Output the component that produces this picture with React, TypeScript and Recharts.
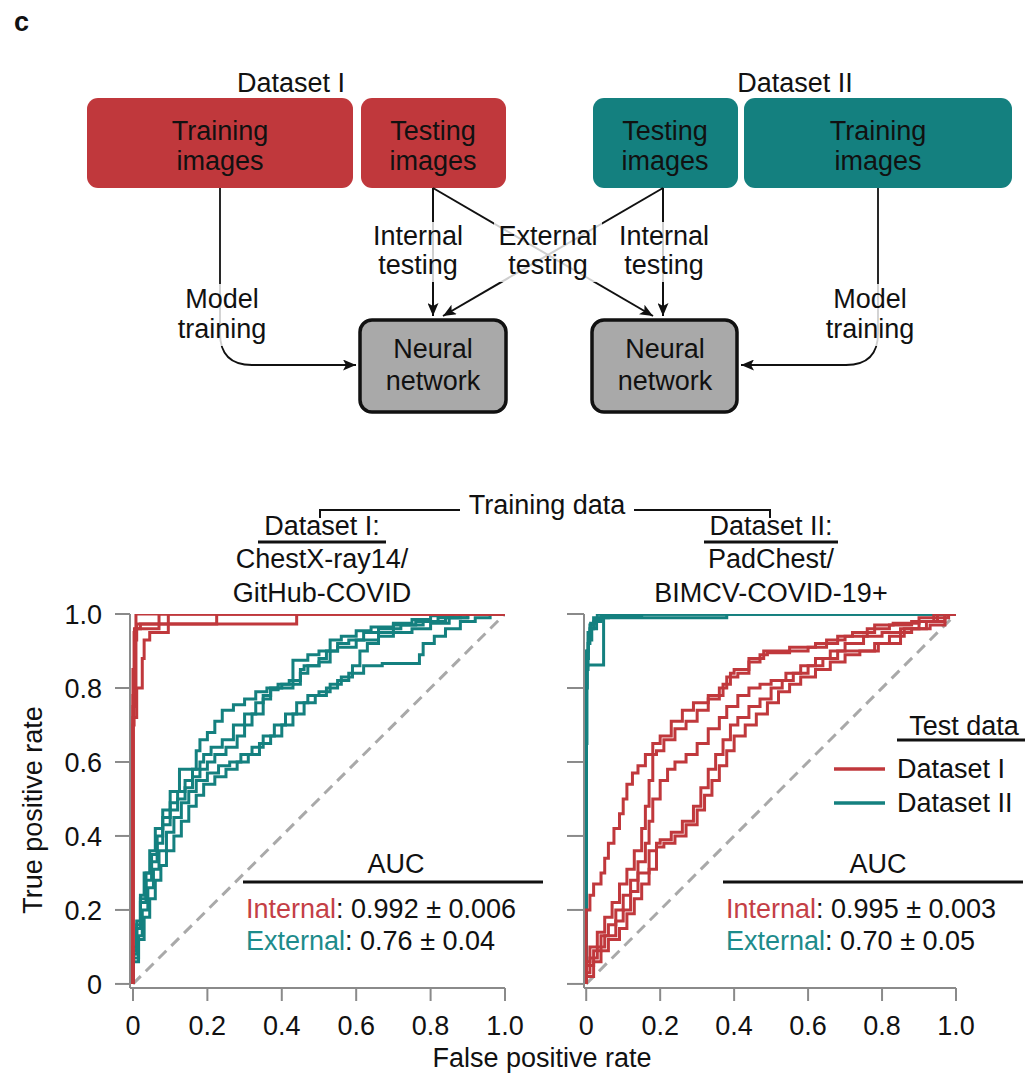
import { Legend, Line, LineChart, XAxis, YAxis } from "recharts";

const RED = "#c0383c";
const TEAL = "#14807f";
const RED_TXT = "#c43f46";
const TEAL_TXT = "#1d8b8b";
const AXIS = "#8a8a8a";
const FONT = "'Liberation Sans', Arial, Helvetica, sans-serif";
const FS = 27;

const TICKS = [0, 0.2, 0.4, 0.6, 0.8, 1];
const fmtTick = (v: number) => (v === 0 ? "0" : v.toFixed(1));
const CHANCE = [[0, 0], [1, 1]];

// Left panel: trained on Dataset I (ChestX-ray14 / GitHub-COVID)
const LEFT_INTERNAL = [
  [[0, 0], [0, 0.7], [0.003, 0.7], [0.003, 0.95], [0.008, 0.95], [0.008, 1], [1, 1]],
  [[0, 0], [0, 0.78], [0.005, 0.78], [0.005, 0.93], [0.01, 0.93], [0.01, 0.973], [0.44, 0.973], [0.44, 1], [1, 1]],
  [[0, 0], [0, 0.75], [0.008, 0.75], [0.008, 0.96], [0.02, 0.96], [0.02, 0.973], [0.225, 0.973], [0.225, 1], [1, 1]],
  [[0, 0], [0, 0.72], [0.01, 0.72], [0.01, 0.8], [0.025, 0.8], [0.025, 0.88], [0.03, 0.88], [0.03, 0.93], [0.045, 0.93], [0.045, 0.95], [0.095, 0.95], [0.095, 1], [1, 1]],
  [[0, 0], [0, 0.85], [0.004, 0.85], [0.004, 0.96], [0.07, 0.96], [0.07, 1], [1, 1]],
];
const LEFT_EXTERNAL = [
  [[0, 0], [0.01, 0.1], [0.02, 0.17], [0.03, 0.24], [0.045, 0.3], [0.06, 0.36], [0.08, 0.42], [0.1, 0.47], [0.125, 0.52], [0.13, 0.58], [0.17, 0.58], [0.18, 0.63], [0.2, 0.66], [0.22, 0.68], [0.24, 0.71], [0.27, 0.74], [0.3, 0.755], [0.33, 0.77], [0.36, 0.79], [0.4, 0.8], [0.43, 0.81], [0.43, 0.875], [0.47, 0.875], [0.5, 0.89], [0.53, 0.9], [0.56, 0.93], [0.6, 0.94], [0.64, 0.955], [0.7, 0.965], [0.75, 0.975], [0.8, 0.985], [0.86, 0.995], [0.92, 1], [1, 1]],
  [[0, 0], [0.01, 0.08], [0.02, 0.15], [0.035, 0.22], [0.05, 0.28], [0.065, 0.33], [0.08, 0.38], [0.1, 0.43], [0.12, 0.47], [0.14, 0.5], [0.16, 0.53], [0.18, 0.56], [0.2, 0.58], [0.22, 0.6], [0.25, 0.62], [0.28, 0.64], [0.3, 0.67], [0.32, 0.7], [0.35, 0.73], [0.37, 0.77], [0.39, 0.8], [0.42, 0.81], [0.45, 0.82], [0.47, 0.84], [0.5, 0.86], [0.53, 0.87], [0.55, 0.9], [0.58, 0.92], [0.62, 0.93], [0.66, 0.95], [0.72, 0.96], [0.78, 0.97], [0.84, 0.98], [0.9, 0.99], [0.95, 1], [1, 1]],
  [[0, 0], [0.015, 0.07], [0.025, 0.13], [0.04, 0.2], [0.055, 0.26], [0.07, 0.31], [0.09, 0.36], [0.11, 0.41], [0.13, 0.45], [0.15, 0.49], [0.17, 0.52], [0.2, 0.55], [0.23, 0.57], [0.26, 0.59], [0.29, 0.6], [0.32, 0.62], [0.35, 0.64], [0.38, 0.67], [0.41, 0.7], [0.44, 0.73], [0.47, 0.76], [0.5, 0.78], [0.53, 0.79], [0.56, 0.81], [0.59, 0.83], [0.61, 0.86], [0.63, 0.9], [0.66, 0.92], [0.7, 0.94], [0.75, 0.95], [0.8, 0.96], [0.85, 0.975], [0.9, 0.99], [1, 1]],
  [[0, 0], [0.015, 0.06], [0.03, 0.12], [0.045, 0.18], [0.06, 0.23], [0.075, 0.28], [0.09, 0.32], [0.11, 0.36], [0.13, 0.4], [0.15, 0.44], [0.17, 0.48], [0.19, 0.51], [0.22, 0.54], [0.25, 0.56], [0.28, 0.58], [0.31, 0.6], [0.34, 0.62], [0.37, 0.65], [0.4, 0.67], [0.43, 0.7], [0.46, 0.73], [0.49, 0.76], [0.52, 0.78], [0.55, 0.8], [0.58, 0.82], [0.62, 0.84], [0.67, 0.86], [0.77, 0.866], [0.78, 0.89], [0.81, 0.92], [0.84, 0.94], [0.88, 0.96], [0.92, 0.98], [0.96, 0.99], [1, 1]],
  [[0, 0], [0.01, 0.09], [0.02, 0.16], [0.035, 0.23], [0.05, 0.3], [0.065, 0.35], [0.08, 0.4], [0.1, 0.45], [0.12, 0.49], [0.14, 0.52], [0.16, 0.55], [0.18, 0.58], [0.19, 0.6], [0.21, 0.62], [0.24, 0.64], [0.27, 0.66], [0.3, 0.7], [0.33, 0.73], [0.35, 0.76], [0.37, 0.78], [0.39, 0.795], [0.43, 0.8], [0.45, 0.81], [0.46, 0.85], [0.5, 0.86], [0.52, 0.88], [0.55, 0.9], [0.6, 0.91], [0.66, 0.93], [0.7, 0.95], [0.76, 0.97], [0.82, 0.98], [0.88, 0.99], [0.93, 1], [1, 1]],
];

// Right panel: trained on Dataset II (PadChest / BIMCV-COVID-19+)
const RIGHT_INTERNAL = [
  [[0, 0], [0, 0.6], [0.003, 0.8], [0.006, 0.9], [0.01, 0.95], [0.02, 0.97], [0.03, 0.99], [0.045, 1], [1, 1]],
  [[0, 0], [0, 0.7], [0.005, 0.85], [0.01, 0.92], [0.02, 0.96], [0.035, 0.98], [0.05, 0.99], [0.38, 0.99], [0.38, 1], [1, 1]],
  [[0, 0], [0, 0.75], [0.004, 0.86], [0.047, 0.862], [0.047, 0.98], [0.06, 0.99], [0.1, 1], [1, 1]],
  [[0, 0], [0, 0.8], [0.005, 0.9], [0.012, 0.95], [0.025, 0.975], [0.04, 0.985], [0.15, 0.993], [0.2, 1], [1, 1]],
  [[0, 0], [0.002, 0.65], [0.006, 0.88], [0.015, 0.93], [0.028, 0.96], [0.04, 0.98], [0.05, 1], [1, 1]],
];
const RIGHT_EXTERNAL = [
  [[0, 0], [0, 0.14], [0.01, 0.2], [0.02, 0.24], [0.04, 0.27], [0.05, 0.3], [0.06, 0.34], [0.075, 0.38], [0.09, 0.42], [0.1, 0.46], [0.11, 0.5], [0.125, 0.54], [0.14, 0.57], [0.16, 0.59], [0.18, 0.62], [0.2, 0.65], [0.23, 0.67], [0.26, 0.71], [0.29, 0.74], [0.33, 0.76], [0.37, 0.78], [0.39, 0.81], [0.4, 0.84], [0.44, 0.85], [0.48, 0.88], [0.48, 0.9], [0.55, 0.9], [0.62, 0.91], [0.68, 0.92], [0.72, 0.94], [0.78, 0.95], [0.83, 0.97], [0.9, 0.975], [0.98, 0.99], [1, 1]],
  [[0, 0], [0.01, 0.06], [0.03, 0.1], [0.05, 0.14], [0.07, 0.18], [0.09, 0.22], [0.11, 0.27], [0.13, 0.31], [0.15, 0.36], [0.16, 0.42], [0.17, 0.48], [0.18, 0.55], [0.19, 0.62], [0.21, 0.63], [0.24, 0.66], [0.27, 0.69], [0.3, 0.71], [0.33, 0.74], [0.36, 0.77], [0.38, 0.8], [0.41, 0.83], [0.44, 0.84], [0.47, 0.87], [0.49, 0.89], [0.55, 0.895], [0.6, 0.9], [0.65, 0.91], [0.7, 0.93], [0.76, 0.94], [0.82, 0.96], [0.88, 0.97], [0.94, 0.98], [1, 1]],
  [[0, 0], [0.02, 0.05], [0.04, 0.09], [0.06, 0.13], [0.08, 0.16], [0.1, 0.2], [0.12, 0.24], [0.14, 0.28], [0.16, 0.33], [0.17, 0.38], [0.18, 0.44], [0.2, 0.5], [0.22, 0.55], [0.24, 0.58], [0.27, 0.6], [0.3, 0.62], [0.33, 0.65], [0.36, 0.69], [0.38, 0.72], [0.41, 0.75], [0.44, 0.78], [0.47, 0.8], [0.5, 0.81], [0.54, 0.82], [0.58, 0.84], [0.62, 0.86], [0.66, 0.88], [0.7, 0.9], [0.75, 0.92], [0.8, 0.94], [0.85, 0.95], [0.9, 0.96], [0.95, 0.98], [1, 1]],
  [[0, 0], [0.01, 0.03], [0.03, 0.07], [0.05, 0.1], [0.08, 0.13], [0.1, 0.17], [0.12, 0.2], [0.14, 0.25], [0.17, 0.3], [0.19, 0.36], [0.2, 0.38], [0.23, 0.39], [0.26, 0.41], [0.29, 0.44], [0.31, 0.48], [0.33, 0.53], [0.35, 0.58], [0.37, 0.62], [0.39, 0.66], [0.41, 0.7], [0.44, 0.72], [0.47, 0.75], [0.5, 0.77], [0.53, 0.8], [0.56, 0.82], [0.6, 0.84], [0.64, 0.86], [0.68, 0.88], [0.72, 0.9], [0.78, 0.9], [0.82, 0.92], [0.86, 0.94], [0.92, 0.96], [0.97, 0.98], [1, 1]],
  [[0, 0], [0.02, 0.02], [0.04, 0.06], [0.06, 0.09], [0.09, 0.12], [0.11, 0.15], [0.13, 0.19], [0.15, 0.23], [0.17, 0.27], [0.19, 0.31], [0.21, 0.37], [0.24, 0.38], [0.27, 0.4], [0.3, 0.43], [0.32, 0.47], [0.34, 0.51], [0.36, 0.55], [0.38, 0.59], [0.4, 0.63], [0.43, 0.67], [0.46, 0.7], [0.49, 0.73], [0.52, 0.76], [0.55, 0.79], [0.58, 0.81], [0.62, 0.83], [0.66, 0.85], [0.7, 0.87], [0.74, 0.89], [0.79, 0.9], [0.85, 0.92], [0.88, 0.95], [0.93, 0.96], [0.97, 0.97], [1, 1]],
];

const LEGEND_ITEMS = [
  { label: "Dataset I", color: RED },
  { label: "Dataset II", color: TEAL },
];

const toPts = (c: number[][]) => c.map(([fpr, tpr]) => ({ fpr, tpr }));

function RocLines({ curves, color, prefix }: { curves: number[][][]; color: string; prefix: string }) {
  return curves.map((c, i) => (
    <Line
      key={`${prefix}${i}`}
      data={toPts(c)}
      dataKey="tpr"
      type="stepBefore"
      stroke={color}
      strokeWidth={3}
      dot={false}
      activeDot={false}
      isAnimationActive={false}
    />
  ));
}

function ChanceLine() {
  return (
    <Line
      data={toPts(CHANCE)}
      dataKey="tpr"
      type="linear"
      stroke="#a9a9a9"
      strokeWidth={3}
      strokeDasharray="11 7"
      dot={false}
      activeDot={false}
      isAnimationActive={false}
    />
  );
}

function TestLegend() {
  return (
    <svg width={191} height={125} style={{ display: "block" }}>
      <text x={130} y={35} textAnchor="middle" fontSize={FS} fill="#111">Test data</text>
      <line x1={63} x2={191} y1={40} y2={40} stroke="#111" strokeWidth={3} />
      {LEGEND_ITEMS.map((d, i) => (
        <g key={d.label}>
          <line x1={0} x2={51} y1={69 + i * 34} y2={69 + i * 34} stroke={d.color} strokeWidth={3.5} />
          <text x={63} y={78 + i * 34} fontSize={FS} fill="#111">{d.label}</text>
        </g>
      ))}
    </svg>
  );
}

const xAxisProps = {
  type: "number" as const,
  dataKey: "fpr",
  ticks: TICKS,
  tickFormatter: fmtTick,
  allowDataOverflow: true,
  interval: 0 as const,
  height: 60,
  tickSize: 13,
  tickMargin: 15,
  stroke: AXIS,
  strokeWidth: 2,
  tick: { fill: "#111", fontSize: FS },
};

function Diagram() {
  const halo = { fill: "#fff", opacity: 0.8 };
  return (
    <g fontSize={FS} fill="#111">
      <defs>
        <marker id="ah" markerWidth="13" markerHeight="11" refX="13" refY="5.5" orient="auto" markerUnits="userSpaceOnUse">
          <path d="M0,0 L13,5.5 L0,11 L3,5.5 z" fill="#111" />
        </marker>
      </defs>
      <text x={14} y={31} fontWeight="bold">c</text>
      <text x={291} y={92} textAnchor="middle">Dataset I</text>
      <text x={795} y={92} textAnchor="middle">Dataset II</text>

      <rect x={87} y={98} width={266} height={90} rx={11} fill={RED} />
      <rect x={361} y={98} width={145} height={90} rx={11} fill={RED} />
      <rect x={593} y={98} width={145} height={90} rx={11} fill={TEAL} />
      <rect x={744} y={98} width={268} height={90} rx={11} fill={TEAL} />
      {[[220, "Training"], [433, "Testing"], [665, "Testing"], [878, "Training"]].map(([x, t]) => (
        <g key={`${x}`}>
          <text x={x} y={140} textAnchor="middle">{t}</text>
          <text x={x} y={170} textAnchor="middle">images</text>
        </g>
      ))}

      <g stroke="#111" fill="none" strokeWidth={2}>
        <path d="M220,188 L220,333 Q220,365 252,365 L356,365" markerEnd="url(#ah)" strokeWidth={1.8} />
        <path d="M878,188 L878,333 Q878,365 846,365 L741,365" markerEnd="url(#ah)" strokeWidth={1.8} />
        <path d="M433,188 L433,316" markerEnd="url(#ah)" />
        <path d="M433,188 L653,316" markerEnd="url(#ah)" />
        <path d="M663,188 L443,316" markerEnd="url(#ah)" />
        <path d="M663,188 L663,316" markerEnd="url(#ah)" />
      </g>

      <rect x={368} y={222} width={100} height={60} {...halo} />
      <rect x={494} y={222} width={108} height={60} {...halo} />
      <rect x={614} y={222} width={100} height={60} {...halo} />
      <rect x={178} y={284} width={90} height={62} {...halo} />
      <rect x={825} y={284} width={90} height={62} {...halo} />
      <text x={418} y={245} textAnchor="middle">Internal</text>
      <text x={418} y={274} textAnchor="middle">testing</text>
      <text x={548} y={245} textAnchor="middle">External</text>
      <text x={548} y={274} textAnchor="middle">testing</text>
      <text x={664} y={245} textAnchor="middle">Internal</text>
      <text x={664} y={274} textAnchor="middle">testing</text>
      <text x={222} y={308} textAnchor="middle">Model</text>
      <text x={222} y={338} textAnchor="middle">training</text>
      <text x={870} y={308} textAnchor="middle">Model</text>
      <text x={870} y={338} textAnchor="middle">training</text>

      <rect x={360} y={320} width={146} height={92} rx={12} fill="#a9a9a9" stroke="#111" strokeWidth={3.5} />
      <rect x={592} y={320} width={145} height={92} rx={12} fill="#a9a9a9" stroke="#111" strokeWidth={3.5} />
      {[433, 665].map((x) => (
        <g key={x}>
          <text x={x} y={358} textAnchor="middle">Neural</text>
          <text x={x} y={390} textAnchor="middle">network</text>
        </g>
      ))}
    </g>
  );
}

function Annotations() {
  return (
    <g fontSize={FS} fill="#111">
      {/* training data bracket */}
      <path d="M320,518 L320,510 L460,510 M634,510 L770,510 L770,518" stroke="#111" strokeWidth={2} fill="none" />
      <text x={547} y={514} textAnchor="middle">Training data</text>
      <text x={322} y={535} textAnchor="middle">Dataset I:</text>
      <line x1={258} x2={386} y1={542} y2={542} stroke="#111" strokeWidth={3} />
      <text x={322} y={568} textAnchor="middle">ChestX-ray14/</text>
      <text x={322} y={602} textAnchor="middle">GitHub-COVID</text>
      <text x={771} y={535} textAnchor="middle">Dataset II:</text>
      <line x1={704} x2={838} y1={542} y2={542} stroke="#111" strokeWidth={3} />
      <text x={771} y={568} textAnchor="middle">PadChest/</text>
      <text x={771} y={602} textAnchor="middle">BIMCV-COVID-19+</text>

      {/* AUC boxes */}
      {[
        { x0: 243, cx: 396, intl: "0.992 ± 0.006", ext: "0.76 ± 0.04" },
        { x0: 723, cx: 878, intl: "0.995 ± 0.003", ext: "0.70 ± 0.05" },
      ].map((a) => (
        <g key={a.x0}>
          <text x={a.cx} y={873} textAnchor="middle">AUC</text>
          <line x1={a.x0} x2={a.x0 + 300} y1={882} y2={882} stroke="#111" strokeWidth={3} />
          <text x={a.x0 + 3} y={918}>
            <tspan fill={RED_TXT}>Internal</tspan>
            <tspan>: {a.intl}</tspan>
          </text>
          <text x={a.x0 + 3} y={950}>
            <tspan fill={TEAL_TXT}>External</tspan>
            <tspan>: {a.ext}</tspan>
          </text>
        </g>
      ))}

      <text transform="translate(42,810) rotate(-90)" textAnchor="middle">True positive rate</text>
      <text x={542} y={1067} textAnchor="middle">False positive rate</text>
    </g>
  );
}

export default function App() {
  return (
    <div style={{ position: "absolute", left: 0, top: 0, width: 1025, height: 1078, background: "#fff", fontFamily: FONT }}>
      <div style={{ position: "absolute", left: 0, top: 590 }}>
        <LineChart width={560} height={470} margin={{ top: 24, right: 55, bottom: 12, left: 30 }}>
          <XAxis {...xAxisProps} domain={[-0.008, 1]} />
          <YAxis
            type="number"
            domain={[-0.011, 1]}
            ticks={TICKS}
            tickFormatter={fmtTick}
            allowDataOverflow
            interval={0}
            width={100}
            tickSize={15}
            tickMargin={13}
            stroke={AXIS}
            strokeWidth={2}
            tick={{ fill: "#111", fontSize: FS }}
          />
          {ChanceLine()}
          {RocLines({ curves: LEFT_EXTERNAL, color: TEAL, prefix: "le" })}
          {RocLines({ curves: LEFT_INTERNAL, color: RED, prefix: "li" })}
        </LineChart>
      </div>
      <div style={{ position: "absolute", left: 480, top: 590 }}>
        <LineChart width={545} height={470} margin={{ top: 24, right: 69, bottom: 12, left: 44 }}>
          <XAxis {...xAxisProps} domain={[-0.006, 1]} />
          <YAxis
            type="number"
            domain={[-0.011, 1]}
            ticks={TICKS}
            tickFormatter={() => ""}
            allowDataOverflow
            interval={0}
            width={60}
            tickSize={17}
            tickMargin={4}
            stroke={AXIS}
            strokeWidth={2}
          />
          {ChanceLine()}
          {RocLines({ curves: RIGHT_INTERNAL, color: TEAL, prefix: "ri" })}
          {RocLines({ curves: RIGHT_EXTERNAL, color: RED, prefix: "re" })}
          <Legend
            layout="horizontal"
            verticalAlign="middle"
            align="center"
            content={() => <TestLegend />}
            wrapperStyle={{ position: "absolute", left: 354, top: 110, width: 191, height: 125 }}
          />
        </LineChart>
      </div>
      <svg width={1025} height={1078} style={{ position: "absolute", left: 0, top: 0, pointerEvents: "none" }}>
        <Diagram />
        <Annotations />
      </svg>
    </div>
  );
}
